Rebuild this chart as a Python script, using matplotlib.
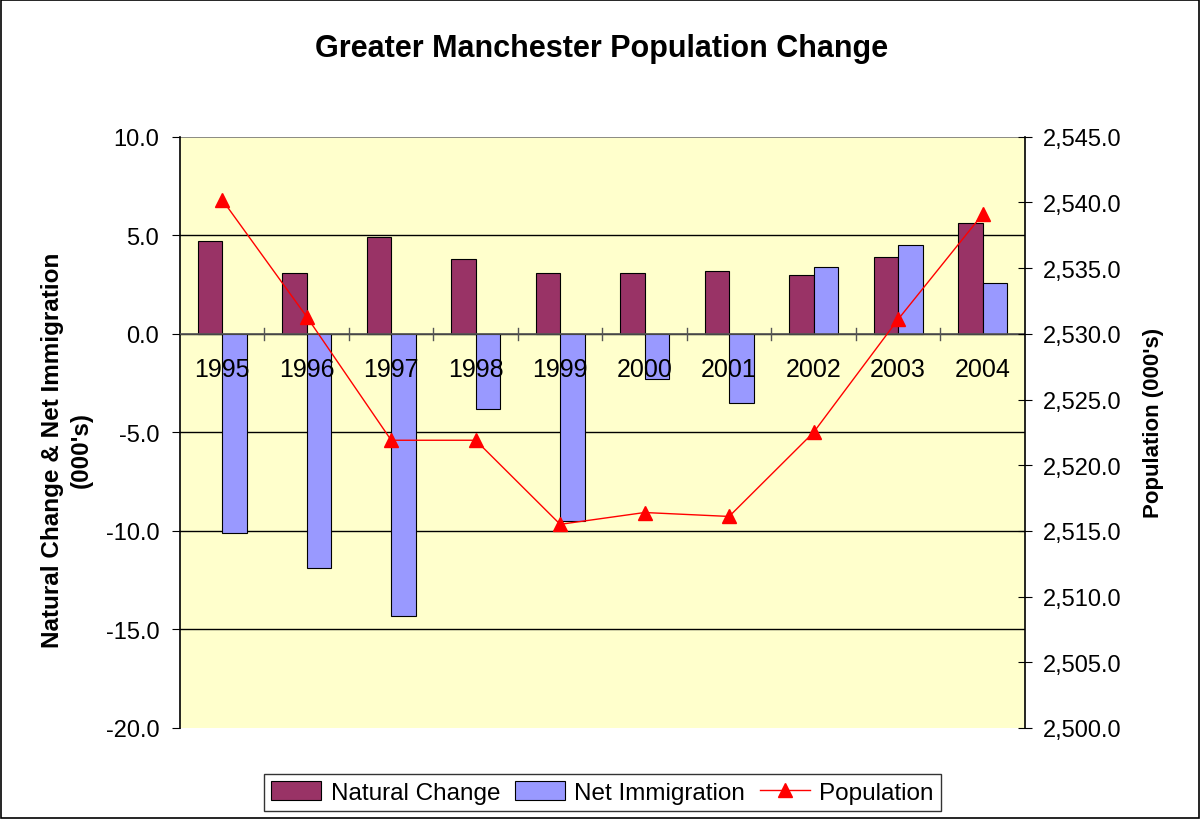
import numpy as np
import matplotlib.pyplot as plt
from matplotlib.patches import Rectangle
from matplotlib.ticker import FuncFormatter

plt.rcParams['font.family'] = ['Liberation Sans', 'DejaVu Sans']

# 数据
years = ['1995', '1996', '1997', '1998', '1999', '2000', '2001', '2002', '2003', '2004']
natural_change = [4.7, 3.1, 4.9, 3.8, 3.1, 3.1, 3.2, 3.0, 3.9, 5.6]
net_immigration = [-10.1, -11.9, -14.3, -3.8, -9.5, -2.3, -3.5, 3.4, 4.5, 2.6]
population = [2540.2, 2531.3, 2521.9, 2521.9, 2515.5, 2516.4, 2516.1, 2522.5, 2531.1, 2539.1]

fig = plt.figure(figsize=(12, 8.2), dpi=100)
ax = fig.add_axes([0.15, 0.111, 0.704, 0.721])
ax.set_facecolor('#ffffcc')

x = np.arange(len(years))
w = 0.29
ax.bar(x - w / 2, natural_change, w, color='#993366', edgecolor='black', linewidth=0.8,
       label='Natural Change', zorder=2)
ax.bar(x + w / 2, net_immigration, w, color='#9999ff', edgecolor='black', linewidth=0.8,
       label='Net Immigration', zorder=2)

ax.set_xlim(-0.5, len(years) - 0.5)
ax.set_ylim(-20, 10)
ax.set_yticks(np.arange(-20, 11, 5))
ax.yaxis.set_major_formatter(FuncFormatter(lambda v, p: f'{v:.1f}'))
ax.tick_params(axis='y', labelsize=17, length=6, direction='out', pad=9)
for v in np.arange(-15, 10, 5):
    ax.axhline(v, color='black', linewidth=1, zorder=1)
ax.axhline(10, color='#777777', linewidth=1.2, zorder=1)
ax.axhline(0, color='#555555', linewidth=1.2, zorder=3)

# 类别刻度在零线上
ax.set_xticks([])
for xi in np.arange(0.5, len(years) - 0.5, 1):
    ax.plot([xi, xi], [-0.3, 0.3], color='#555555', linewidth=1, zorder=3, clip_on=False)
for xi, yr in zip(x, years):
    ax.text(xi, -1.8, yr, ha='center', va='center', fontsize=18, zorder=4)

for s in ['top', 'right', 'bottom']:
    ax.spines[s].set_visible(False)
ax.spines['left'].set_linewidth(1.2)

ax2 = ax.twinx()
ax2.plot(x, population, color='red', linewidth=1, marker='^', markersize=10,
         label='Population', zorder=5)
ax2.set_ylim(2500, 2545)
ax2.set_yticks(np.arange(2500, 2546, 5))
ax2.yaxis.set_major_formatter(FuncFormatter(lambda v, p: f'{v:,.1f}'))
ax2.tick_params(axis='y', labelsize=17, length=10, direction='inout', pad=8)
for s in ['top', 'left', 'bottom']:
    ax2.spines[s].set_visible(False)
ax2.spines['right'].set_linewidth(1.2)

# 标题和轴标题
fig.text(0.501, 0.940, 'Greater Manchester Population Change', ha='center', va='center',
         fontsize=22, fontweight='bold')
fig.text(0.056, 0.451, "Natural Change & Net Immigration\n(000's)", ha='center', va='center',
         rotation=90, fontsize=17.5, fontweight='bold', linespacing=1.3, multialignment='center')
fig.text(0.961, 0.484, "Population (000's)", ha='center', va='center',
         rotation=90, fontsize=16, fontweight='bold')

h1, l1 = ax.get_legend_handles_labels()
h2, l2 = ax2.get_legend_handles_labels()
fig.legend(h1 + h2, l1 + l2, loc='center', bbox_to_anchor=(0.502, 0.032), ncol=3,
           fontsize=17.5, frameon=True, fancybox=False, edgecolor='black',
           handlelength=2.05, handleheight=0.8, handletextpad=0.4, columnspacing=0.6,
           borderpad=0.3, borderaxespad=0)

fig.patches.append(Rectangle((0.001, 0.001), 0.998, 0.998, transform=fig.transFigure,
                             fill=False, edgecolor='black', linewidth=1.2))

fig.savefig('out.png', dpi=100)
